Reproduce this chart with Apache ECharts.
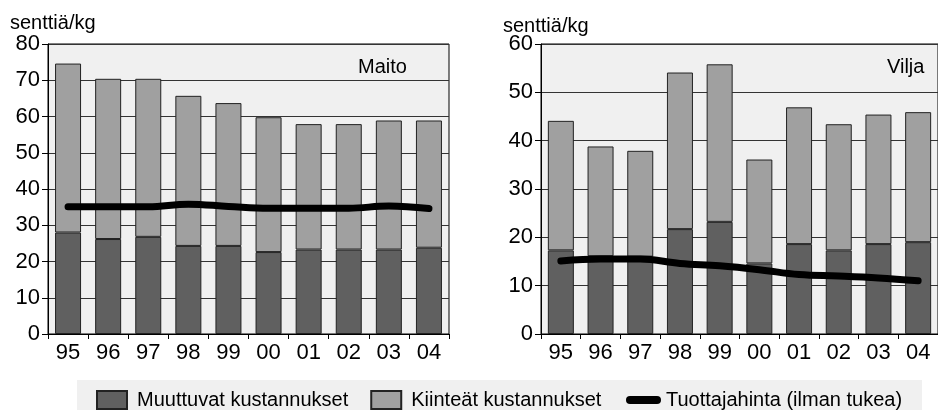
<!DOCTYPE html>
<html>
<head>
<meta charset="utf-8">
<script src="https://cdn.jsdelivr.net/npm/echarts@6/dist/echarts.min.js"></script>
<style>
html,body{margin:0;padding:0;background:#fff;}
#c{width:938px;height:410px;}
</style>
</head>
<body>
<div id="c"></div>
<script>
var years = ['95','96','97','98','99','00','01','02','03','04'];
var milkVariable = [28.0, 26.2, 26.8, 24.3, 24.3, 22.6, 23.3, 23.3, 23.3, 23.8];
var milkFixed    = [46.6, 44.2, 43.6, 41.4, 39.4, 37.2, 34.6, 34.6, 35.6, 35.1];
var milkPrice    = [35.1, 35.1, 35.1, 35.8, 35.2, 34.7, 34.7, 34.7, 35.3, 34.6];
var grainVariable = [17.3, 16.1, 16.0, 21.7, 23.2, 14.6, 18.6, 17.3, 18.6, 19.0];
var grainFixed    = [26.8, 22.7, 21.9, 32.4, 32.6, 21.5, 28.3, 26.1, 26.8, 26.9];
var grainPrice    = [15.1, 15.5, 15.5, 14.6, 14.1, 13.3, 12.3, 12.0, 11.6, 11.0];
var milkTicks = {min: 0, max: 80, interval: 10};
var grainTicks = {min: 0, max: 60, interval: 10};
var names = ['Muuttuvat kustannukset', 'Kiinteät kustannukset', 'Tuottajahinta (ilman tukea)'];
var unitLabel = 'senttiä/kg';
var panelTitles = ['Maito', 'Vilja'];

var FONT = '"Liberation Sans", Arial, sans-serif';
var chart = echarts.init(document.getElementById('c'), null, {renderer: 'canvas'});

function xAxis(i) {
  return {
    type: 'category', gridIndex: i, data: years, boundaryGap: true,
    axisLine: {show: true, lineStyle: {color: '#000', width: 1}},
    axisTick: {show: true, length: 5, lineStyle: {color: '#000'}},
    axisLabel: {color: '#000', fontSize: 22, fontFamily: FONT, margin: 8},
    splitLine: {show: false}
  };
}
function yAxis(i, t) {
  return {
    type: 'value', gridIndex: i, min: t.min, max: t.max, interval: t.interval,
    axisLine: {show: true, lineStyle: {color: '#000', width: 1}},
    axisTick: {show: true, length: 6, lineStyle: {color: '#000'}},
    axisLabel: {color: '#000', fontSize: 22, fontFamily: FONT, margin: 8},
    splitLine: {show: true, lineStyle: {color: '#333', width: 1}}
  };
}
function bars(name, data, i, stack, color) {
  return {
    name: name, type: 'bar', xAxisIndex: i, yAxisIndex: i, stack: stack,
    data: data, barWidth: 26,
    itemStyle: {color: color, borderColor: '#222', borderWidth: 1},
    emphasis: {disabled: true}, animation: false
  };
}
function line(data, i) {
  return {
    name: names[2], type: 'line', xAxisIndex: i, yAxisIndex: i, data: data,
    smooth: 0.4, symbol: 'none', z: 5,
    itemStyle: {color: '#000'},
    lineStyle: {color: '#000', width: 7, cap: 'round', join: 'round'},
    emphasis: {disabled: true}, animation: false
  };
}
function title(text, left, top) {
  return {text: text, left: left, top: top, padding: 0,
    textStyle: {fontSize: 20, fontWeight: 'normal', color: '#000', fontFamily: FONT}};
}

var option = {
  animation: false,
  textStyle: {fontFamily: FONT},
  title: [
    title(unitLabel, 10, 13),
    title(unitLabel, 503, 16),
    title(panelTitles[0], 358, 57),
    title(panelTitles[1], 887, 57)
  ],
  graphic: [
    {type: 'rect', left: 77, top: 380, shape: {width: 845, height: 40}, style: {fill: '#f0f0f0'}, z: -1}
  ],
  legend: [
    {
      data: [names[0], names[1]], left: 96, top: 390, padding: 0, itemWidth: 30, itemHeight: 18, itemGap: 22,
      icon: 'rect', selectedMode: false,
      textStyle: {fontSize: 20, color: '#000', fontFamily: FONT, padding: [0, 0, 0, 5]}
    },
    {
      data: [names[2]], left: 626, top: 390, padding: 0, itemWidth: 35, itemHeight: 8, selectedMode: false,
      icon: 'path://M4,0 L31,0 A4,4 0 0 1 31,8 L4,8 A4,4 0 0 1 4,0 Z',
      itemStyle: {color: '#000', borderWidth: 0},
      textStyle: {fontSize: 20, color: '#000', fontFamily: FONT}
    }
  ],
  grid: [
    {left: 48, top: 44, width: 401, height: 290, show: true, backgroundColor: '#f0f0f0', borderColor: '#000', borderWidth: 1},
    {left: 541, top: 44, width: 401, height: 290, show: true, backgroundColor: '#f0f0f0', borderColor: '#000', borderWidth: 1}
  ],
  xAxis: [xAxis(0), xAxis(1)],
  yAxis: [yAxis(0, milkTicks), yAxis(1, grainTicks)],
  series: [
    bars(names[0], milkVariable, 0, 'milk', '#606060'),
    bars(names[1], milkFixed, 0, 'milk', '#a0a0a0'),
    line(milkPrice, 0),
    bars(names[0], grainVariable, 1, 'grain', '#606060'),
    bars(names[1], grainFixed, 1, 'grain', '#a0a0a0'),
    line(grainPrice, 1)
  ]
};
chart.setOption(option);
</script>
</body>
</html>
